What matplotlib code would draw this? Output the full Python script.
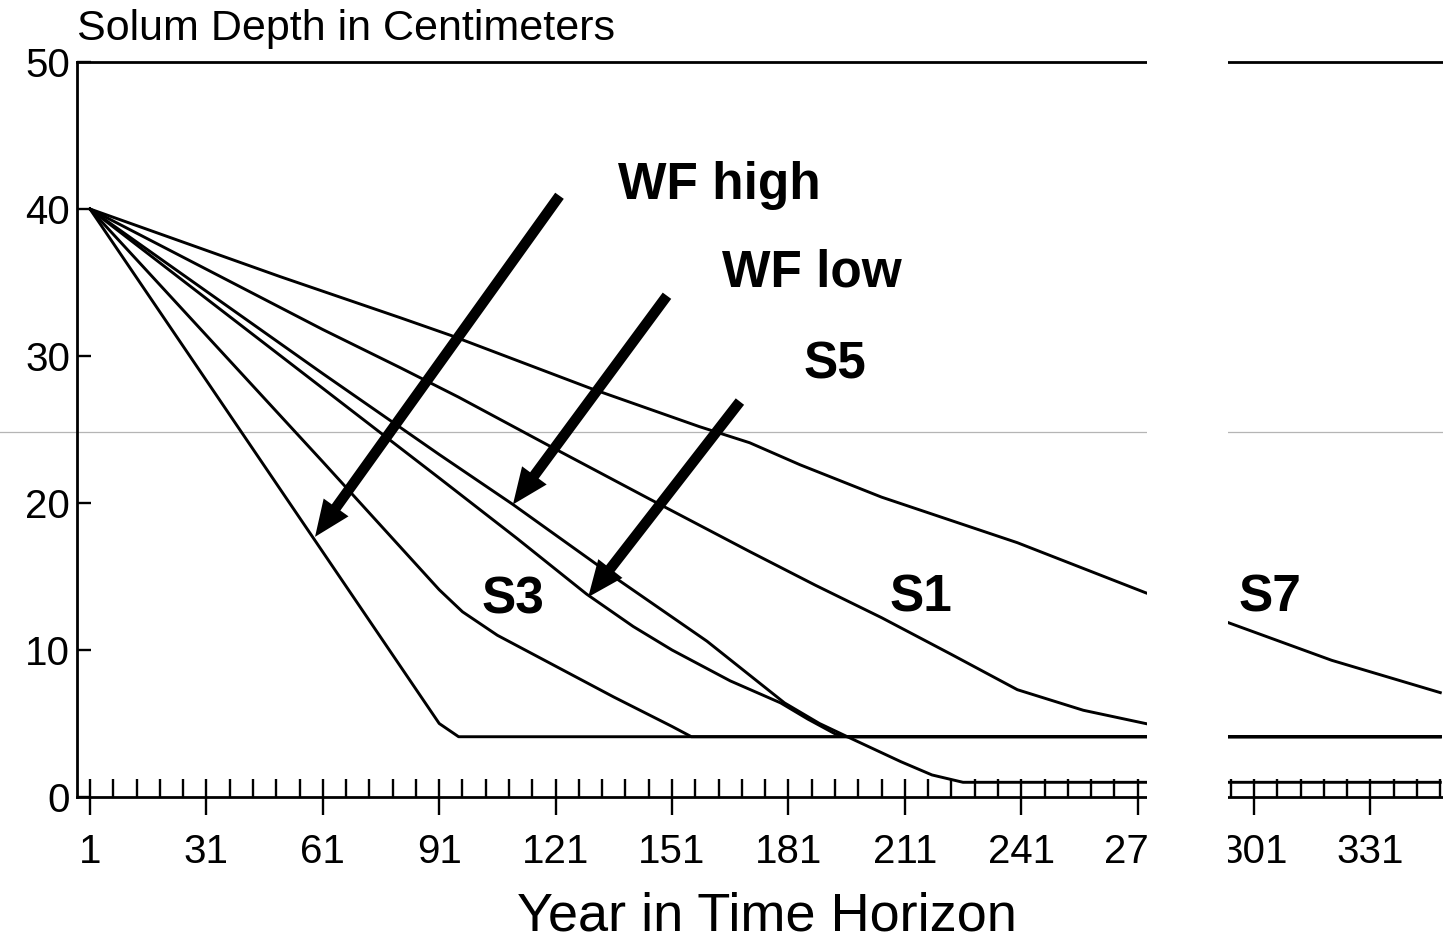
import matplotlib
matplotlib.use("Agg")
import matplotlib.pyplot as plt
from matplotlib.ticker import MultipleLocator, FormatStrFormatter
from matplotlib.patches import Rectangle

# solum depth (cm) over the time horizon
years_wf_high = [1, 91, 96, 349]
wf_high = [40, 5.0, 4.1, 4.1]

years_s3 = [1, 31, 61, 81, 91, 97, 106, 121, 136, 151, 156, 349]
s3 = [40, 31.4, 22.8, 17.0, 14.1, 12.6, 11.0, 8.9, 6.8, 4.8, 4.1, 4.1]

years_s5 = [1, 31, 61, 91, 111, 129, 141, 151, 166, 179, 186, 193, 196, 349]
s5 = [40, 33.9, 27.8, 21.7, 17.6, 13.8, 11.6, 10.0, 7.9, 6.4, 5.3, 4.3, 4.1, 4.1]

years_wf_low = [1, 31, 61, 91, 110, 137, 160, 180, 189, 197, 210, 218, 226, 349]
wf_low = [40, 34.4, 28.8, 23.3, 19.9, 14.8, 10.6, 6.4, 5.0, 4.0, 2.4, 1.5, 1.0, 1.0]

years_s1 = [1, 31, 61, 81, 96, 120, 145, 171, 188, 205, 223, 240, 257, 273, 282, 290, 349]
s1 = [40, 35.9, 31.8, 29.2, 27.2, 23.8, 20.3, 16.7, 14.4, 12.2, 9.7, 7.3, 5.9, 5.0, 4.5, 4.1, 4.1]

years_s7 = [1, 50, 81, 94, 130, 158, 171, 184, 205, 240, 273, 295, 321, 349]
s7 = [40, 35.4, 32.6, 31.4, 27.8, 25.2, 24.1, 22.6, 20.4, 17.3, 13.9, 11.8, 9.3, 7.1]

# labels: (text, year, depth) at baseline-left
labels = [("WF high", 137, 40.7), ("WF low", 164, 34.7), ("S5", 185, 28.5),
          ("S3", 102, 12.5), ("S1", 207, 12.6), ("S7", 297, 12.6)]
# arrows: (tail year, tail depth, tip year, tip depth)
arrows = [(122, 40.9, 59, 17.7), (149.7, 34.1, 110, 19.9), (168.5, 26.9, 129.4, 13.6)]

narrow = ["Liberation Sans Narrow", "Liberation Sans", "DejaVu Sans"]
plain = ["Liberation Sans", "DejaVu Sans"]

fig = plt.figure(figsize=(14.43, 9.42), dpi=100)
ax = fig.add_axes([77 / 1443, 145 / 942, 1 - 77 / 1443, 735 / 942])

for xs, ys in [(years_wf_high, wf_high), (years_s3, s3), (years_s5, s5),
               (years_wf_low, wf_low), (years_s1, s1), (years_s7, s7)]:
    ax.plot(xs, ys, color="black", lw=2.1, solid_joinstyle="round")

for txt, x, y in labels:
    ax.text(x, y, txt, fontsize=37, fontweight="bold", family=plain,
            ha="left", va="baseline")

for x0, y0, x1, y1 in arrows:
    ax.annotate("", xy=(x1, y1), xytext=(x0, y0),
                arrowprops=dict(arrowstyle="simple,head_length=1.3,head_width=1.1,tail_width=0.38",
                                mutation_scale=20, fc="black", ec="black", lw=0,
                                shrinkA=0, shrinkB=0))

ax.set_xlim(-2.35, 349.7)
ax.set_ylim(0, 50)

ax.spines["right"].set_visible(False)
for s in ["left", "top", "bottom"]:
    ax.spines[s].set_linewidth(2.0)

ax.xaxis.set_major_locator(MultipleLocator(30, offset=1))
ax.xaxis.set_minor_locator(MultipleLocator(6, offset=1))
ax.xaxis.set_major_formatter(FormatStrFormatter("%d"))
ax.tick_params(axis="x", which="major", direction="inout", length=26, width=1.7, pad=13)
ax.tick_params(axis="x", which="minor", direction="in", length=13, width=1.7)
ax.yaxis.set_major_locator(MultipleLocator(10))
ax.tick_params(axis="y", direction="in", length=10, width=1.7, pad=5)
for lab in ax.get_xticklabels() + ax.get_yticklabels():
    lab.set_family(narrow)
    lab.set_fontsize(29)

ax.text(0.0, 51.5, "Solum Depth in Centimeters", transform=ax.get_yaxis_transform(),
        fontsize=31, family=plain, ha="left", va="baseline", clip_on=False)
ax.set_xlabel("Year in Time Horizon", fontsize=39, family=plain)
ax.xaxis.set_label_coords(0.5048, -0.128)

# faint fold line across the scan
ax.axhline(24.8, xmin=-0.06, xmax=1, color="#b5b5b5", lw=0.9, clip_on=False, zorder=0)

# blank strip where the scan is cut
fig.add_artist(Rectangle((1147 / 1443, 0), 81 / 1443, 1, transform=fig.transFigure,
                         facecolor="white", edgecolor="none", zorder=10))

fig.savefig("out.png", dpi=100)
